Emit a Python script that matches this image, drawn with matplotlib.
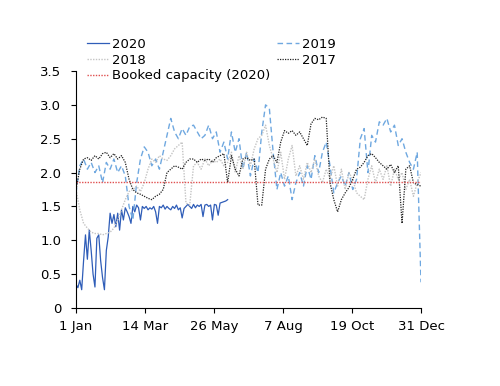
import matplotlib
matplotlib.use("Agg")
import matplotlib.pyplot as plt
import numpy as np

# ---- data ----
days = list(range(0, 365, 4))  # day-of-year index (0 = 1 Jan)

y2017 = [1.75, 2.05, 2.2, 2.22, 2.18, 2.25, 2.2, 2.28, 2.3, 2.22, 2.28, 2.2, 2.25, 2.15,
         1.9, 1.75, 1.7, 1.68, 1.65, 1.62, 1.6, 1.65, 1.68, 1.75, 2.0, 2.05, 2.1, 2.08,
         2.05, 2.15, 2.2, 2.2, 2.15, 2.2, 2.18, 2.2, 2.15, 2.22, 2.25, 2.28, 1.85, 2.25,
         2.05, 1.95, 2.2, 2.22, 2.18, 2.2, 1.52, 1.52, 2.05, 2.2, 2.25, 2.15, 2.45, 2.62,
         2.58, 2.62, 2.55, 2.6, 2.5, 2.4, 2.72, 2.8, 2.78, 2.82, 2.8, 1.85, 1.6, 1.42,
         1.6, 1.7, 1.78, 1.9, 2.05, 2.08, 2.15, 2.25, 2.28, 2.22, 2.15, 2.1, 2.05, 2.12,
         2.0, 2.1, 1.25, 2.05, 2.1, 1.85, 1.82, 1.8]

y2018 = [1.75, 1.45, 1.25, 1.18, 1.12, 1.1, 1.1, 1.08, 1.1, 1.12, 1.18, 1.3, 1.45, 1.6,
         1.72, 1.75, 1.8, 1.72, 1.85, 2.05, 2.2, 2.15, 2.25, 2.2, 2.18, 2.25, 2.35, 2.4,
         2.45, 1.55, 1.52, 2.1, 2.15, 2.05, 2.2, 2.1, 2.18, 2.15, 2.2, 2.1, 2.15, 2.3,
         2.0, 2.25, 2.05, 2.3, 2.1, 2.35, 2.5, 2.55, 2.7, 2.4, 2.2, 2.0, 2.3, 1.9,
         2.2, 2.4, 1.95, 2.1, 1.9, 2.15, 2.0, 2.2, 1.95, 1.85, 2.05, 1.9, 2.1, 1.8,
         2.05, 1.75, 2.0, 1.9, 1.7, 1.65, 1.6, 1.9, 2.1, 1.85, 2.05, 1.9, 2.1, 1.8,
         2.05, 1.9, 2.0, 1.75, 1.9, 1.65, 1.85, 2.0]

y2019 = [1.7, 2.1, 2.2, 2.05, 2.15, 2.0, 2.1, 1.85, 2.15, 2.05, 2.2, 2.0, 2.1, 1.95,
         1.5, 1.3, 1.85, 2.2, 2.38, 2.3, 2.1, 2.2, 2.05, 2.3, 2.55, 2.8, 2.6, 2.5,
         2.65, 2.55, 2.68, 2.7, 2.6, 2.5, 2.55, 2.7, 2.5, 2.6, 2.3, 2.45, 2.2, 2.6,
         2.3, 2.5, 2.05, 2.3, 1.95, 2.2, 2.0, 2.6, 3.0, 2.95, 2.3, 1.75, 2.0, 1.8,
         1.95, 1.6, 1.85, 2.0, 1.8, 2.1, 1.9, 2.25, 2.0, 2.3, 2.45, 2.1, 1.7, 1.85,
         1.95, 1.8, 2.0, 1.75, 1.9, 2.5, 2.65, 2.0, 2.55, 2.45, 2.75, 2.7, 2.8, 2.6,
         2.7, 2.4, 2.5, 2.3, 2.15, 2.05, 2.3, 0.38]

days2020 = list(range(0, 161, 2))
y2020 = [0.35, 0.3, 0.41, 0.27, 0.7, 1.08, 0.72, 1.15, 0.85, 0.5, 0.31, 1.03, 1.08, 0.7,
         0.45, 0.27, 0.85, 1.05, 1.4, 1.25, 1.38, 1.2, 1.4, 1.15, 1.45, 1.3, 1.48, 1.42,
         1.35, 1.25, 1.5, 1.42, 1.52, 1.48, 1.3, 1.5, 1.47, 1.5, 1.45, 1.48, 1.46, 1.5,
         1.42, 1.25, 1.5, 1.48, 1.52, 1.46, 1.5, 1.47, 1.45, 1.5, 1.47, 1.52, 1.45, 1.48,
         1.33, 1.47, 1.5, 1.53, 1.5, 1.47, 1.53, 1.48, 1.52, 1.5, 1.53, 1.35, 1.52, 1.53,
         1.5, 1.52, 1.3, 1.53, 1.52, 1.37, 1.55, 1.56, 1.57, 1.58, 1.6]

booked_capacity = 1.86

xtick_labels = ["1 Jan", "14 Mar", "26 May", "7 Aug", "19 Oct", "31 Dec"]
yticks = [0, 0.5, 1.0, 1.5, 2.0, 2.5, 3.0, 3.5]
ytick_labels = ["0", "0.5", "1.0", "1.5", "2.0", "2.5", "3.0", "3.5"]

# ---- plot ----
plt.rcParams['font.family'] = ['DejaVu Sans']
fig = plt.figure(figsize=(5.0, 3.86), dpi=100)
ax = fig.add_axes([76/500, 1-308/386, 345/500, 237/386])

l2020, = ax.plot(days2020, y2020, color='#2F5DB8', lw=0.9, label='2020')
l2019, = ax.plot(days, y2019, color='#6FA8E0', lw=1.0, ls=(0, (4, 2.5)), label='2019')
l2018, = ax.plot(days, y2018, color='#C4C4C4', lw=1.0, ls=(0, (1, 1)), label='2018')
l2017, = ax.plot(days, y2017, color='#222222', lw=0.9, ls=(0, (1, 1)), label='2017')
lbook, = ax.plot([days[0], days[-1]], [booked_capacity, booked_capacity],
                 color='#E05050', lw=1.0, ls=(0, (1, 1)), label='Booked capacity (2020)')

ax.set_xlim(0, 364)
ax.set_ylim(0, 3.5)
ax.set_xticks(np.linspace(0, 364, 6))
ax.set_xticklabels(xtick_labels)
ax.set_yticks(yticks)
ax.set_yticklabels(ytick_labels)
for s in ['top', 'right']:
    ax.spines[s].set_visible(False)
for s in ['left', 'bottom']:
    ax.spines[s].set_linewidth(0.8)
ax.tick_params(axis='both', labelsize=9.5, length=3.5, width=0.8, direction='out', colors='black')
ax.tick_params(axis='y', pad=7)
ax.tick_params(axis='x', pad=5)

# column-major order: col1 = 2020, 2018, Booked ; col2 = 2019, 2017
handles = [l2020, l2018, lbook, l2019, l2017]
fig.legend(handles=handles, labels=[h.get_label() for h in handles],
           loc='upper left', bbox_to_anchor=(87/500, 1-38/386), ncol=2,
           frameon=False, fontsize=9.5, handlelength=1.7, handletextpad=0.2,
           labelspacing=0.2, columnspacing=0.5, borderpad=0, borderaxespad=0)

fig.savefig('out.png', dpi=100)
